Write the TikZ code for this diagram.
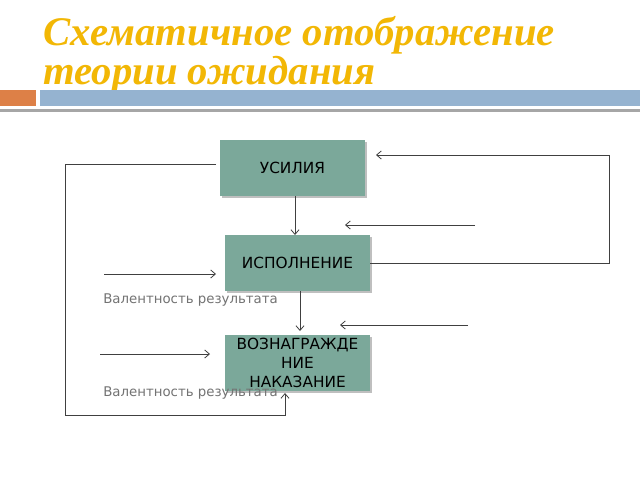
\documentclass[tikz,border=0pt]{standalone}
\usepackage{fontspec}
\setmainfont{DejaVu Sans}
\newfontfamily\titlefont{Liberation Serif}
\usetikzlibrary{arrows.meta}
\definecolor{boxfill}{HTML}{7BA89A}
\definecolor{titlecol}{HTML}{F2B705}
\definecolor{barblue}{HTML}{95B3D0}
\definecolor{barorange}{HTML}{DD8047}
\begin{document}
\begin{tikzpicture}[x=0.75pt,y=-0.75pt,
  blk/.style={fill=boxfill,draw=none,minimum width=108.75pt,minimum height=42pt,inner sep=0pt,align=center,font=\fontsize{11.5}{14}\selectfont,text width=108pt},
  conn/.style={draw=black!75,line width=0.6pt},
  arr/.style={conn,-{Straight Barb[length=3.5pt,width=6pt]}},
  val/.style={font=\fontsize{10}{11}\selectfont,text=black!55,anchor=west,inner sep=0pt}]
\useasboundingbox (0,0) rectangle (640,480);
\fill[white] (0,0) rectangle (640,480);
\node[anchor=north west,align=left,inner sep=0pt,text=titlecol,font=\titlefont\bfseries\itshape\fontsize{30.5}{29}\selectfont] (title) at (43,16) {Схематичное отображение\\теории ожидания};
\fill[barorange] (0,90) rectangle (36,106);
\fill[barblue] (40,90) rectangle (640,106);
\fill[black!35] (0,109) rectangle (640,112);
\fill[black!25] (222,142) rectangle (367,198);
\fill[black!25] (227,237) rectangle (372,293);
\fill[black!25] (227,337) rectangle (372,393);
\node[blk] (u) at (292.5,168) {УСИЛИЯ};
\node[blk] (i) at (297.5,263) {ИСПОЛНЕНИЕ};
\node[blk] (v) at (297.5,363) {ВОЗНАГРАЖДЕ\\НИЕ\\НАКАЗАНИЕ};
\node[val] (t1) at (103,300) {Валентность результата};
\node[val] (t2) at (103,393) {Валентность результата};
\draw[arr] (295,196) -- (295,235);
\draw[arr] (300,291) -- (300,331);
\coordinate (l0) at (216,164);
\coordinate (l1) at (285,393);
\draw[arr] (l0) -- (65,164) -- (65,415) -- (285,415) -- (l1);
\coordinate (r1) at (376,155);
\draw[arr] (i.east) -- (609,263) -- (609,155) -- (r1);
\coordinate (a1) at (475,225); \coordinate (a2) at (345,225);
\draw[arr] (a1) -- (a2);
\coordinate (b1) at (104,274); \coordinate (b2) at (216,274);
\draw[arr] (b1) -- (b2);
\coordinate (c1) at (468,325); \coordinate (c2) at (340,325);
\draw[arr] (c1) -- (c2);
\coordinate (d1) at (100,354); \coordinate (d2) at (210,354);
\draw[arr] (d1) -- (d2);
\end{tikzpicture}
\end{document}
